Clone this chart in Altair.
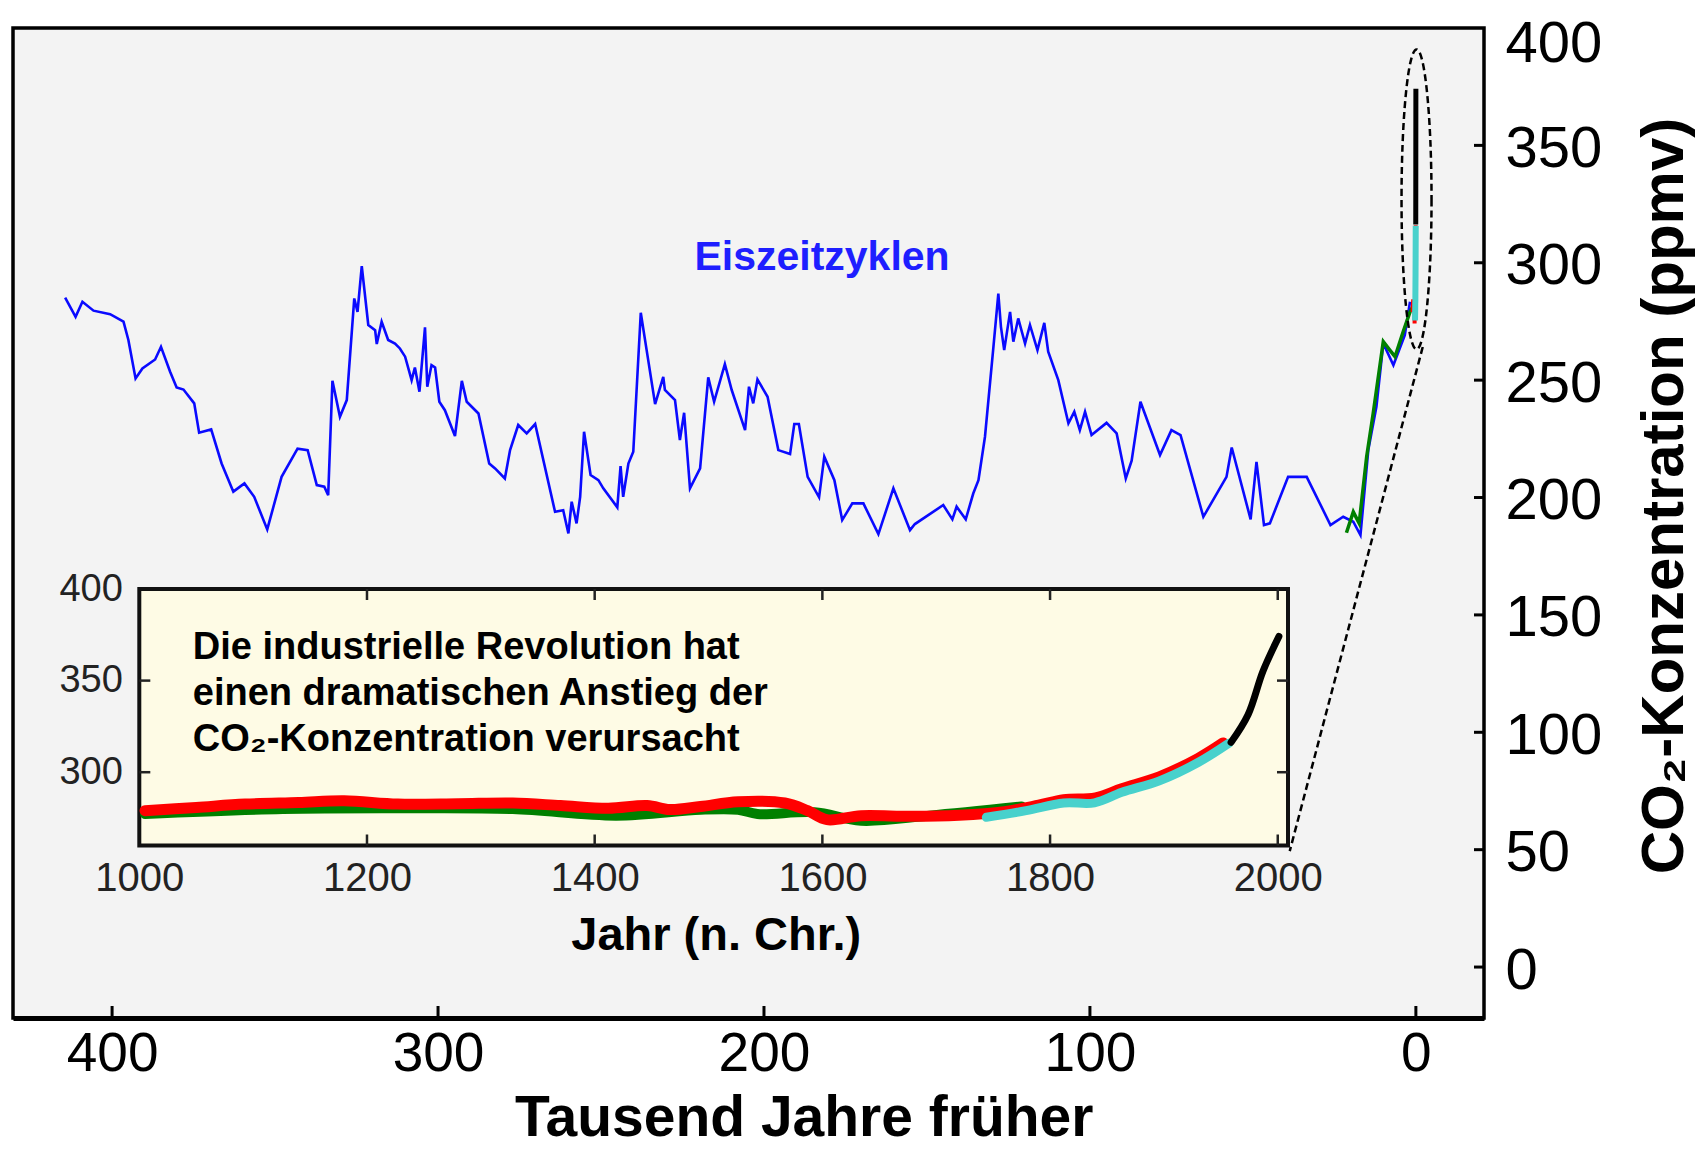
import altair as alt
import pandas as pd

FONT = "Liberation Sans"

# ---------------- data ----------------
# Vostok ice core, thousand years before present / ppmv
VOSTOK_KYR = [414.4, 411.2, 409.1, 405.7, 400.6, 396.5, 395.0, 392.8, 390.7, 386.8,
              385.0, 382.2, 380.2, 378.1, 374.8, 373.3, 369.6, 366.4, 362.8, 359.4,
              356.4, 352.4, 348.0, 343.1, 340.0, 337.2, 334.9, 333.7, 332.4, 330.1,
              328.0, 325.7, 324.7, 323.4, 321.4, 319.3, 318.8, 317.3, 315.3, 313.2,
              311.7, 310.1, 308.1, 307.1, 305.7, 304.0, 303.3, 302.0, 300.9, 299.6,
              297.9, 294.8, 292.7, 291.2, 287.6, 284.3, 282.5, 279.5, 277.9, 275.4,
              272.8, 270.2, 264.1, 261.6, 260.0, 259.0, 257.5, 256.4, 255.2, 253.2,
              250.8, 249.3, 245.0, 244.0, 243.2, 241.6, 240.1, 237.8, 236.0, 233.4,
              230.9, 230.4, 227.3, 225.8, 224.5, 222.7, 219.6, 217.1, 215.3, 212.0,
              209.9, 205.8, 204.6, 203.3, 202.0, 198.9, 195.6, 192.0, 190.7, 189.3,
              186.6, 183.1, 181.5, 178.4, 176.0, 172.9, 169.5, 164.9, 160.3, 155.2,
              153.7, 145.0, 142.2, 140.9, 138.1, 135.8, 134.2, 132.2, 129.7, 128.1,
              127.3, 126.3, 124.5, 123.5, 122.0, 119.9, 118.4, 116.1, 114.0, 112.8,
              109.7, 106.6, 104.8, 103.1, 101.5, 99.5, 94.9, 91.8, 89.0, 87.2,
              84.5, 78.5, 75.0, 72.2, 65.2, 58.1, 56.5, 50.7, 48.9, 46.6,
              44.8, 39.2, 33.5, 26.2, 22.3, 19.2, 17.0, 14.6, 12.1, 10.0,
              6.9, 3.4, 1.8]
VOSTOK_PPM = [285.2, 277.0, 283.4, 279.6, 278.1, 274.9, 267.1, 250.7, 255.0, 258.8,
              264.2, 253.6, 246.9, 246.0, 240.1, 227.6, 229.0, 214.5, 202.5, 206.0,
              200.3, 186.4, 208.8, 220.8, 220.2, 205.3, 204.6, 201.0, 249.7, 234.4,
              241.5, 284.8, 279.1, 298.6, 273.5, 271.3, 265.4, 274.9, 267.1, 265.6,
              263.5, 260.0, 250.0, 255.4, 245.1, 272.5, 247.2, 256.4, 255.4, 240.8,
              237.2, 226.2, 249.7, 240.8, 235.8, 214.5, 212.4, 208.1, 220.2, 230.9,
              227.3, 231.3, 193.9, 194.6, 184.7, 198.2, 189.0, 200.3, 228.0, 209.6,
              207.4, 203.9, 195.8, 213.4, 200.3, 214.5, 219.5, 278.7, 262.8, 239.8,
              251.4, 245.8, 241.5, 224.5, 236.1, 203.9, 212.4, 251.2, 240.8, 256.8,
              245.8, 228.7, 247.2, 240.1, 250.3, 242.9, 220.2, 218.5, 231.3, 231.3,
              208.8, 200.1, 217.4, 207.4, 190.4, 197.5, 197.5, 184.4, 203.9, 186.1,
              188.7, 196.8, 190.7, 196.1, 190.7, 201.7, 207.4, 225.9, 262.8, 286.9,
              272.7, 262.8, 279.1, 266.4, 276.3, 265.6, 273.5, 262.8, 274.4, 262.1,
              250.0, 231.6, 236.5, 228.7, 236.5, 226.6, 231.8, 227.3, 208.1, 215.7,
              240.8, 218.1, 228.7, 226.6, 191.8, 208.8, 221.3, 190.7, 215.2, 188.3,
              189.0, 208.8, 208.8, 188.3, 191.8, 189.7, 184.0, 220.2, 238.7, 265.6,
              256.4, 269.2, 283.4]

# second ice core (green) at the end of the last glacial
TAYLOR_KYR = [21.3, 19.2, 17.4, 15.1, 13.1, 10.0, 8.0, 6.4, 3.9, 1.8, 1.0]
TAYLOR_PPM = [185.0, 193.9, 189.0, 217.4, 235.8, 266.4, 262.8, 260.0, 270.6, 279.1, 281.3]

# inset: last millennium, year AD / ppmv
GREEN_YEAR = [1005, 1126, 1227, 1328, 1419, 1493, 1526, 1543, 1593, 1634, 1694, 1775]
GREEN_PPM = [277.2, 279.9, 280.3, 279.9, 276.3, 279.5, 279.5, 277.2, 278.1, 273.5, 276.3, 281.3]
RED_YEAR = [1005, 1050, 1093, 1140, 1180, 1227, 1280, 1328, 1370, 1412, 1446, 1466,
            1493, 1526, 1567, 1587, 1604, 1634, 1678, 1720, 1760, 1790, 1812, 1840,
            1863, 1896, 1930, 1952]
RED_PPM = [279.0, 280.8, 282.6, 283.5, 284.4, 282.6, 282.8, 283.2, 281.8, 280.3, 281.8, 279.6,
           281.3, 283.9, 283.2, 279.0, 274.1, 276.3, 275.9, 276.5, 278.5, 282.0, 285.0, 286.0,
           291.0, 297.5, 307.5, 316.0]
CYAN_YEAR = [1744, 1779, 1812, 1839, 1863, 1896, 1930, 1957]
CYAN_PPM = [275.4, 279.0, 283.2, 283.3, 289.0, 295.3, 305.3, 315.8]
BLACK_YEAR = [1959, 1974, 1987, 2001]
BLACK_PPM = [316.3, 331.5, 355.1, 374.1]

# axes
MAIN_X_DOMAIN = [430.4, -20.9]
MAIN_Y_DOMAIN = [-21.7, 400]
MAIN_X_TICKS = [400, 300, 200, 100, 0]
MAIN_Y_TICKS = [0, 50, 100, 150, 200, 250, 300, 350, 400]
INSET_X_DOMAIN = [1000, 2009]
INSET_Y_DOMAIN = [260, 400]
INSET_X_LABELS = [1000, 1200, 1400, 1600, 1800, 2000]
INSET_X_TICKS = [1200, 1400, 1600, 1800, 2000]
INSET_Y_LABELS = [300, 350, 400]
INSET_Y_TICKS = [300, 350]

# texts
X_TITLE = "Tausend Jahre früher"
Y_TITLE = "CO₂-Konzentration (ppmv)"
INSET_X_TITLE = "Jahr (n. Chr.)"
CYCLES_LABEL = "Eiszeitzyklen"
INSET_NOTE = ["Die industrielle Revolution hat",
              "einen dramatischen Anstieg der",
              "CO₂-Konzentration verursacht"]

# annotation anchors (data coordinates)
CYCLES_POS = {"kyr": 182.2, "ppm": 296.9}
NOTE_POS = {"year": 1047, "ppm": 361.6}
ELLIPSE_POS = {"kyr": -0.2, "ppm": 327.0}
CONNECTOR = {"kyr": -2.1, "ppm": 264.1, "kyr2": 38.7, "ppm2": 49.4}

# ---------------- layout (pixels) ----------------
W, H = 1471, 990
IX0, IX1 = 126.3, 1275.0      # inset plot box, relative to main plot area
IY_TOP, IY_BOT = 561.0, 817.5

BLUE = "#0a0aff"

# ---------------- main chart ----------------
xs = alt.Scale(domain=MAIN_X_DOMAIN, nice=False, zero=False)
ys = alt.Scale(domain=MAIN_Y_DOMAIN, nice=False, zero=False)

main_x_axis = alt.Axis(
    orient="bottom", values=MAIN_X_TICKS, format="d", grid=False,
    ticks=False, tickSize=0, domain=True, domainColor="black", domainWidth=5,
    labelFont=FONT, labelFontSize=55, labelColor="black", labelPadding=9,
    labelFlush=False, labelOverlap=False,
    title=X_TITLE, titleFont=FONT, titleFontSize=57, titleFontWeight="bold",
    titleColor="black", titleX=790.7, titleY=117, titleAlign="center",
    titleBaseline="alphabetic",
)
main_y_axis = alt.Axis(
    orient="right", values=MAIN_Y_TICKS, format="d", grid=False,
    ticks=False, tickSize=0, domain=False,
    labelFont=FONT, labelFontSize=58, labelColor="black", labelPadding=21,
    labelOffset={"condition": {"test": "datum.value == 400", "value": 16}, "value": 4},
    labelFlush=False, labelOverlap=False,
    title=Y_TITLE, titleFont=FONT, titleFontSize=60, titleFontWeight="bold",
    titleColor="black", titleAngle=270, titleX=198, titleY=467.5,
    titleAlign="center", titleBaseline="alphabetic",
)

MX = alt.X("kyr:Q", scale=xs, axis=main_x_axis)
MY = alt.Y("ppm:Q", scale=ys, axis=main_y_axis)

vostok = pd.DataFrame({"kyr": VOSTOK_KYR, "ppm": VOSTOK_PPM})
taylor = pd.DataFrame({"kyr": TAYLOR_KYR, "ppm": TAYLOR_PPM})
red_df = pd.DataFrame({"year": RED_YEAR, "ppm": RED_PPM})
green_df = pd.DataFrame({"year": GREEN_YEAR, "ppm": GREEN_PPM})
cyan_df = pd.DataFrame({"year": CYAN_YEAR, "ppm": CYAN_PPM})
black_df = pd.DataFrame({"year": BLACK_YEAR, "ppm": BLACK_PPM})

to_kyr = "(2000 - datum.year) / 1000"

blue_line = alt.Chart(vostok).mark_line(color=BLUE, strokeWidth=2.6).encode(x=MX, y=MY)
green_line = alt.Chart(taylor).mark_line(color="#008000", strokeWidth=3.5).encode(x=MX, y=MY)
red_spike = alt.Chart(red_df).transform_calculate(kyr=to_kyr).mark_line(
    color="#ff0000", strokeWidth=4).encode(x=MX, y=MY)
cyan_spike = alt.Chart(cyan_df).transform_calculate(kyr=to_kyr).mark_line(
    color="#48d1cc", strokeWidth=6).encode(x=MX, y=MY)
black_spike = alt.Chart(black_df).transform_calculate(kyr=to_kyr).mark_line(
    color="black", strokeWidth=5).encode(x=MX, y=MY)

ELLIPSE_PATH = "M0.1,0A0.1,1,0,1,1,-0.1,0A0.1,1,0,1,1,0.1,0Z"
ellipse = alt.Chart(pd.DataFrame([ELLIPSE_POS])).mark_point(
    shape=ELLIPSE_PATH, size=90000, filled=False, color="black", opacity=1,
    strokeWidth=2.5, strokeDash=[7, 4]).encode(x=MX, y=MY)

connector = alt.Chart(pd.DataFrame([CONNECTOR])).mark_rule(
    color="black", strokeWidth=2.5, strokeDash=[7, 4]).encode(
    x=MX, y=MY, x2="kyr2:Q", y2="ppm2:Q")

right_ticks = alt.Chart(pd.DataFrame({"ppm": MAIN_Y_TICKS[:-1]})).mark_rule(
    color="black", strokeWidth=3).encode(y=MY, x=alt.value(W - 10), x2=alt.value(W))
bottom_ticks = alt.Chart(pd.DataFrame({"kyr": MAIN_X_TICKS})).mark_rule(
    color="black", strokeWidth=3).encode(x=MX, y=alt.value(H - 12), y2=alt.value(H))

cycles_text = alt.Chart(pd.DataFrame([dict(CYCLES_POS, label=CYCLES_LABEL)])).mark_text(
    font=FONT, fontSize=41, fontWeight="bold", color="#1e1eff",
    align="center", baseline="alphabetic").encode(x=MX, y=MY, text="label:N")

main = alt.layer(blue_line, green_line, red_spike, cyan_spike, black_spike,
                 ellipse, connector, right_ticks, bottom_ticks, cycles_text)

# ---------------- inset ----------------
ixs = alt.Scale(domain=INSET_X_DOMAIN, range=[IX0, IX1], nice=False, zero=False)
iys = alt.Scale(domain=INSET_Y_DOMAIN, range=[IY_BOT, IY_TOP], nice=False, zero=False)

inset_x_axis = alt.Axis(
    orient="bottom", offset=IY_BOT - H, values=INSET_X_LABELS, format="d",
    grid=False, ticks=False, tickSize=0, domain=False,
    labelFont=FONT, labelFontSize=40, labelColor="#222222", labelPadding=12.5,
    labelFlush=False, labelOverlap=False,
    title=INSET_X_TITLE, titleFont=FONT, titleFontSize=47, titleFontWeight="bold",
    titleColor="black", titleX=702.7, titleY=103.5, titleAlign="center",
    titleBaseline="alphabetic",
)
inset_y_axis = alt.Axis(
    orient="left", offset=-IX0, values=INSET_Y_LABELS, format="d",
    grid=False, ticks=False, tickSize=0, domain=False,
    labelFont=FONT, labelFontSize=38, labelColor="#222222", labelPadding=17,
    labelFlush=False, labelOverlap=False, title=None,
)

IXE = alt.X("year:Q", scale=ixs, axis=inset_x_axis)
IYE = alt.Y("ppm:Q", scale=iys, axis=inset_y_axis)

frame_df = pd.DataFrame({"year": [INSET_X_DOMAIN[0]], "year2": [INSET_X_DOMAIN[1]],
                         "ppm": [INSET_Y_DOMAIN[0]], "ppm2": [INSET_Y_DOMAIN[1]]})
frame = alt.Chart(frame_df).mark_rect(fill="#fefbe5", stroke="#111111", strokeWidth=4).encode(
    x=IXE, x2="year2:Q", y=IYE, y2="ppm2:Q")

smooth = dict(interpolate="catmull-rom", strokeCap="round", strokeJoin="round")
in_green = alt.Chart(green_df).mark_line(color="#008000", strokeWidth=10, **smooth).encode(x=IXE, y=IYE)
in_red = alt.Chart(red_df).mark_line(color="#ff0000", strokeWidth=11, **smooth).encode(x=IXE, y=IYE)
in_cyan = alt.Chart(cyan_df).mark_line(color="#48d1cc", strokeWidth=9, **smooth).encode(x=IXE, y=IYE)
in_black = alt.Chart(black_df).mark_line(color="black", strokeWidth=7, **smooth).encode(x=IXE, y=IYE)

xt = pd.DataFrame({"year": INSET_X_TICKS})
yt = pd.DataFrame({"ppm": INSET_Y_TICKS})
tick_style = dict(color="#222222", strokeWidth=2.5)
in_top_ticks = alt.Chart(xt).mark_rule(**tick_style).encode(
    x=IXE, y=alt.value(IY_TOP), y2=alt.value(IY_TOP + 11))
in_bot_ticks = alt.Chart(xt).mark_rule(**tick_style).encode(
    x=IXE, y=alt.value(IY_BOT - 11), y2=alt.value(IY_BOT))
in_left_ticks = alt.Chart(yt).mark_rule(**tick_style).encode(
    y=IYE, x=alt.value(IX0), x2=alt.value(IX0 + 11))
in_right_ticks = alt.Chart(yt).mark_rule(**tick_style).encode(
    y=IYE, x=alt.value(IX1 - 11), x2=alt.value(IX1))

note = alt.Chart(pd.DataFrame([NOTE_POS])).mark_text(
    text=INSET_NOTE, font=FONT, fontSize=38, fontWeight="bold", color="black",
    align="left", baseline="alphabetic", lineHeight=45.7).encode(x=IXE, y=IYE)

inset = alt.layer(frame, in_green, in_red, in_cyan, in_black,
                  in_top_ticks, in_bot_ticks, in_left_ticks, in_right_ticks, note)

chart = alt.layer(main, inset).resolve_scale(x="independent", y="independent").properties(
    width=W, height=H,
    padding={"left": 5, "top": 20, "right": 215, "bottom": 130},
    autosize=alt.AutoSizeParams(type="none"),
    background="white",
).configure_view(fill="#f3f3f3", stroke="black", strokeWidth=3.5)

chart.save("out.html", embed_options={"renderer": "svg", "actions": False})
